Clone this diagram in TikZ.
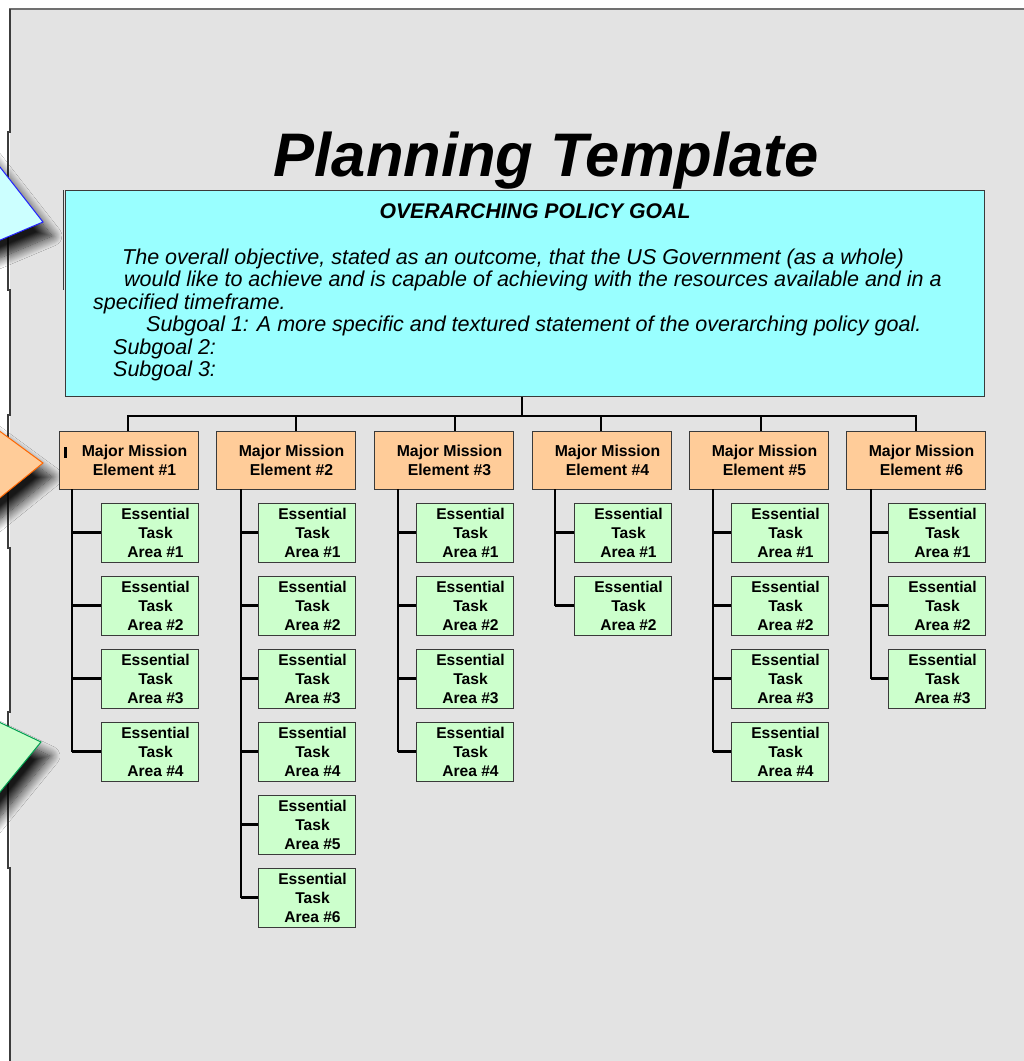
\documentclass[tikz,border=0pt]{standalone}
\usepackage{fontspec}
\setmainfont{Liberation Sans}
\usetikzlibrary{shadows.blur}
\definecolor{panel}{HTML}{E3E3E3}
\definecolor{goalfill}{HTML}{99FFFF}
\definecolor{misfill}{HTML}{FFCC99}
\definecolor{taskfill}{HTML}{CCFFCC}
\definecolor{boxline}{HTML}{3A3A3A}
\definecolor{tri1fill}{HTML}{CCFFFF}
\definecolor{tri1line}{HTML}{2222FF}
\definecolor{tri2fill}{HTML}{FFCC99}
\definecolor{tri2line}{HTML}{FF6600}
\definecolor{tri3fill}{HTML}{CCFFCC}
\definecolor{tri3line}{HTML}{00A050}
\begin{document}
\begin{tikzpicture}[x=1pt,y=-1pt,
  goalbox/.style={draw=boxline,line width=1pt,fill=goalfill,rectangle,inner sep=0pt},
  misbox/.style={draw=boxline,line width=1pt,fill=misfill,rectangle,inner sep=0pt,minimum width=139pt,minimum height=58pt},
  taskbox/.style={draw=boxline,line width=1pt,fill=taskfill,rectangle,inner sep=0pt,minimum width=97pt,minimum height=59pt},
  mistext/.style={align=center,inner sep=0pt,font=\fontsize{15.8}{19}\selectfont\bfseries},
  tasktext/.style={align=center,inner sep=0pt,font=\fontsize{15.6}{19}\selectfont\bfseries},
  goaltext/.style={anchor=base west,inner sep=0pt,font=\fontsize{21.5}{22}\selectfont\itshape},
  conn/.style={draw=black,line width=2.6pt},
  tri/.style={line width=1pt,blur shadow={shadow xshift=9pt,shadow yshift=-14pt,shadow blur radius=10pt,shadow blur steps=14,shadow opacity=90}}
]
\useasboundingbox (0,0) rectangle (1024,1061);
\begin{scope}
\clip (0,0) rectangle (1024,1061);
\fill[white] (0,0) rectangle (1024,1061);
\fill[panel] (10,9) rectangle (1024,1061);
\draw[color={rgb,255:red,112;green,112;blue,112},line width=2pt] (9,9) -- (1024,9);
\draw[color={rgb,255:red,60;green,60;blue,60},line width=1.4pt]
  (10,9) -- (10,132) -- (8,132) -- (8,290) -- (10,290) -- (10,415) -- (8,415) -- (8,548) -- (10,548)
  -- (10,712) -- (8,712) -- (8,868) -- (10,868) -- (10,1061);
% callout triangles at the left edge
\path[tri,fill=tri1fill,draw=tri1line] (-40,116) -- (43,222) -- (-40,257) -- cycle;
\path[tri,fill=tri2fill,draw=tri2line] (-40,402) -- (43,463) -- (-40,530) -- cycle;
\path[tri,fill=tri3fill,draw=tri3line] (-60,694) -- (41,742) -- (-40,841) -- cycle;
\end{scope}

% title
\node[anchor=base,inner sep=0pt,font=\fontsize{61.5}{62}\selectfont\bfseries\itshape] (title) at (546,176) {Planning Template};

% goal box
\node[goalbox,minimum width=919pt,minimum height=206pt] (goal) at (524.5,293) {};
\draw[boxline,line width=1pt] (63,190) -- (63,290);
\node[anchor=base,inner sep=0pt,font=\fontsize{21.2}{22}\selectfont\bfseries\itshape] (goalhead) at (535,218) {OVERARCHING POLICY GOAL};
\node[goaltext] (g1) at (122,264) {The overall objective, stated as an outcome, that the US Government (as a whole)};
\node[goaltext] (g2) at (124,286.5) {would like to achieve and is capable of achieving with the resources available and in a};
\node[goaltext] (g3) at (93,309) {specified timeframe.};
\node[goaltext] (g4) at (146,331.5) {Subgoal 1: A more specific and textured statement of the overarching policy goal.};
\node[goaltext] (g5) at (113,354) {Subgoal 2:};
\node[goaltext] (g6) at (113,376) {Subgoal 3:};

% bus
\coordinate (busL) at (128,416);
\coordinate (busR) at (916,416);
\coordinate (busM) at (522,416);
\draw[conn] (goal.south -| busM) -- (busM);
\draw[conn,line cap=rect] (busL) -- (busR);

\foreach \i/\r/\d/\t/\n in {1/198/128/72/4, 2/355/296/241/6, 3/513/455/398/4, 4/671/601/555/2, 5/828/761/713/4, 6/985/916/871/3} {
  \pgfmathsetmacro{\cx}{\r-69.5}
  \pgfmathsetmacro{\tx}{\r-48.5}
  \node[misbox] (m\i) at (\cx,460) {};
  \node[mistext] (m\i t) at (\cx+6,460.5) {Major Mission\\Element \#\i};
  \coordinate (d\i) at (\d,416);
  \draw[conn] (d\i) -- (d\i |- m\i.north);
  \coordinate (tr\i) at (\t,489);
  \foreach \k in {1,...,\n} {
    \pgfmathsetmacro{\ty}{532.5+73*(\k-1)}
    \node[taskbox] (e\i-\k) at (\tx,\ty) {};
    \node[tasktext] (e\i-\k t) at (\tx+6,\ty+0.5) {Essential\\Task\\Area \#\k};
    \draw[conn] (e\i-\k.west) -- (e\i-\k.west -| tr\i);
  }
  \draw[conn] (tr\i) -- (tr\i |- e\i-\n.west);
}
\fill[black] (63.5,447) rectangle (66.5,458);
\end{tikzpicture}
\end{document}
